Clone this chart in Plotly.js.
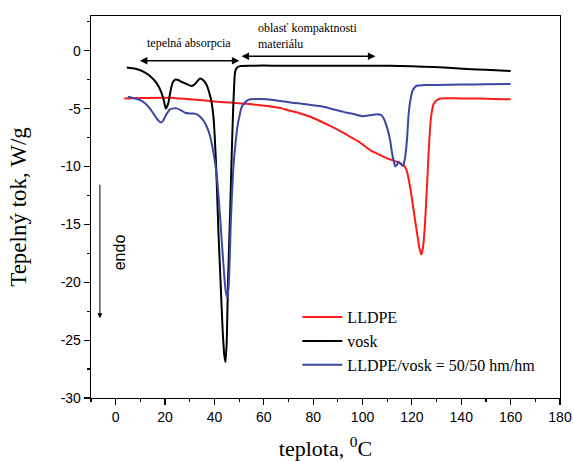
<!DOCTYPE html>
<html>
<head>
<meta charset="utf-8">
<script src="https://cdn.plot.ly/plotly-3.0.1.min.js"></script>
<style>html,body{margin:0;padding:0;background:#fff;}#chart{width:573px;height:461px;}</style>
</head>
<body>
<div id="chart"></div>
<script>
// ---- data ----
const seriesNames = ["LLDPE", "vosk", "LLDPE/vosk = 50/50 hm/hm"];

const lldpeX = [3.5, 10, 20.7, 28, 34.2, 40, 47.7, 55, 61.3, 66.7, 70.7, 74.8, 78.8, 82.5, 86.9, 91, 95, 99.1, 103.2, 106.5, 109.9, 112.2, 114, 116.7, 117.8, 118.7, 119.6, 120.5, 121.4, 122.2, 123, 123.8, 124.5, 125.2, 125.8, 126.4, 126.9, 127.5, 128.2, 128.8, 130, 131.6, 140, 147.8, 160];
const lldpeY = [-4.12, -4.08, -4.06, -4.15, -4.26, -4.38, -4.5, -4.62, -4.78, -4.95, -5.19, -5.42, -5.7, -6.05, -6.5, -6.95, -7.44, -7.95, -8.6, -8.95, -9.3, -9.45, -9.6, -9.9, -10.3, -11.1, -12.2, -13.5, -14.8, -15.9, -17.0, -17.6, -17.0, -15.3, -13.0, -10.5, -8.3, -6.3, -5.1, -4.6, -4.3, -4.12, -4.12, -4.12, -4.2];

const voskX = [4.5, 8, 11.2, 14, 16.6, 18.5, 19.5, 20.3, 21.3, 22.2, 23, 24.1, 25.5, 26.8, 28.5, 30.8, 32, 33.2, 34.2, 35.5, 36.7, 37.6, 38.8, 39.6, 40.7, 41.6, 42.5, 43.3, 44, 44.5, 45, 45.5, 46, 46.5, 47, 47.6, 48, 48.4, 49.2, 50.4, 55, 60, 66.7, 80, 95, 107, 115, 124.8, 133, 142.4, 150, 160];
const voskY = [-1.44, -1.55, -1.8, -2.2, -2.8, -3.6, -4.3, -5.0, -4.55, -3.5, -2.8, -2.5, -2.55, -2.7, -2.85, -3.05, -2.9, -2.6, -2.4, -2.55, -2.9, -3.4, -4.4, -5.7, -10.0, -15.5, -20.0, -24.0, -26.3, -26.9, -25.0, -20.0, -16.5, -13.0, -9.0, -5.0, -3.0, -1.8, -1.45, -1.33, -1.3, -1.28, -1.3, -1.3, -1.3, -1.3, -1.32, -1.38, -1.45, -1.58, -1.65, -1.76];

const blendX = [4.9, 7.5, 9.9, 12, 13.9, 15.5, 16.6, 17.6, 18.4, 19.2, 20, 21, 22, 23.5, 24.7, 26.5, 28.1, 30, 31.5, 33, 34.2, 35.6, 36.9, 38, 38.9, 40, 41, 42, 43, 44, 44.6, 45.2, 45.7, 46.2, 46.6, 47.2, 47.7, 48.4, 49.3, 50.2, 51.1, 53.1, 54.5, 58, 61.3, 66.7, 70.7, 74.8, 80.2, 84.2, 88, 92.3, 96, 99.8, 102.5, 105.9, 107.5, 108.6, 109.6, 110.6, 111.3, 112, 112.7, 113.3, 114, 114.6, 115.4, 116.4, 117.2, 118, 118.7, 119.4, 120.2, 121.4, 122.5, 124.8, 130, 140, 150, 160];
const blendY = [-3.98, -4.1, -4.26, -4.55, -5.0, -5.5, -5.85, -6.1, -6.2, -6.05, -5.7, -5.35, -5.07, -4.98, -4.98, -5.15, -5.36, -5.42, -5.42, -5.5, -5.7, -6.05, -6.57, -7.2, -8.0, -9.3, -10.9, -13.5, -16.5, -19.5, -20.8, -21.3, -20.5, -18.0, -15.0, -12.0, -10.0, -8.3, -6.57, -5.6, -4.84, -4.33, -4.2, -4.18, -4.2, -4.35, -4.47, -4.55, -4.72, -4.84, -5.05, -5.28, -5.45, -5.65, -5.6, -5.48, -5.55, -5.85, -6.4, -7.15, -7.9, -8.9, -9.6, -10.0, -9.85, -9.6, -9.75, -9.97, -9.3, -7.7, -5.4, -4.26, -3.5, -3.1, -3.0, -2.97, -2.95, -2.92, -2.9, -2.88];

const xTickVals = [0, 20, 40, 60, 80, 100, 120, 140, 160, 180];
const xTickText = ["0", "20", "40", "60", "80", "100", "120", "140", "160", "180"];
const xMinorVals = [-10, 10, 30, 50, 70, 90, 110, 130, 150, 170];
const yTickVals = [-30, -25, -20, -15, -10, -5, 0];
const yTickText = ["-30", "-25", "-20", "-15", "-10", "-5", "0"];
const yMinorVals = [-27.5, -22.5, -17.5, -12.5, -7.5, -2.5, 2.5];

const colors = ["#ff1a1a", "#000000", "#3d47a3"];

const traces = [
  {x: lldpeX, y: lldpeY, name: seriesNames[0]},
  {x: voskX, y: voskY, name: seriesNames[1]},
  {x: blendX, y: blendY, name: seriesNames[2]}
].map((t, i) => Object.assign(t, {
  type: "scatter", mode: "lines",
  line: {color: colors[i], width: 2, shape: "spline", smoothing: 0.6}
}));

const serif = "Liberation Serif, Times New Roman, serif";
const sans = "Liberation Sans, Arial, sans-serif";

const axisCommon = {
  showline: true, linecolor: "#000", linewidth: 1.3, mirror: true,
  showgrid: false, zeroline: false,
  ticks: "outside", ticklen: 6, tickwidth: 1.2, tickcolor: "#000",
  tickfont: {family: sans, size: 14, color: "#000"},
  tickmode: "array"
};

const layout = {
  width: 573, height: 461,
  margin: {l: 91, r: 13, t: 16, b: 63},
  paper_bgcolor: "#fff", plot_bgcolor: "#fff",
  showlegend: true,
  legend: {
    x: 0.44, y: 0.256, xanchor: "left", yanchor: "top",
    bgcolor: "rgba(0,0,0,0)", borderwidth: 0,
    font: {family: serif, size: 16, color: "#000"},
    itemwidth: 40,
    tracegroupgap: 0
  },
  xaxis: Object.assign({}, axisCommon, {
    range: [-10, 180], tickvals: xTickVals, ticktext: xTickText,
    minor: {tickmode: "array", tickvals: xMinorVals, ticks: "outside", ticklen: 3, tickwidth: 1.2, tickcolor: "#000", showgrid: false},
    title: {text: "teplota, <sup>0</sup>C", font: {family: serif, size: 22, color: "#000"}, standoff: 20}
  }),
  yaxis: Object.assign({}, axisCommon, {
    range: [-30, 3], tickvals: yTickVals, ticktext: yTickText,
    minor: {tickmode: "array", tickvals: yMinorVals, ticks: "outside", ticklen: 3, tickwidth: 1.2, tickcolor: "#000", showgrid: false},
    title: {text: "\u00a0\u00a0\u00a0\u00a0\u00a0Tepelný tok, W/g", font: {family: serif, size: 23, color: "#000"}, standoff: 27}
  }),
  annotations: [
    {x: 29.9, y: 0.69, xref: "x", yref: "y", text: "tepelná absorpcia", showarrow: false,
     font: {family: serif, size: 12, color: "#000"}},
    {x: 50.1, y: -0.87, ax: 9.2, ay: -0.87, xref: "x", yref: "y", axref: "x", ayref: "y",
     text: "", showarrow: true, arrowside: "end+start", arrowhead: 2, arrowsize: 1, arrowwidth: 1.5, arrowcolor: "#000"},
    {x: 57, y: 1.29, xref: "x", yref: "y", xanchor: "left", align: "left",
     text: "oblasť kompaktnosti<br>materiálu", showarrow: false,
     font: {family: serif, size: 12, color: "#000"}},
    {x: 105.2, y: -0.48, ax: 50.4, ay: -0.48, xref: "x", yref: "y", axref: "x", ayref: "y",
     text: "", showarrow: true, arrowside: "end+start", arrowhead: 2, arrowsize: 1, arrowwidth: 1.5, arrowcolor: "#000"},
    {x: -6.4, y: -23.1, ax: -6.4, ay: -11.45, xref: "x", yref: "y", axref: "x", ayref: "y",
     text: "", showarrow: true, arrowhead: 2, arrowsize: 1, arrowwidth: 1, arrowcolor: "#000"},
    {x: 1.4, y: -17.4, xref: "x", yref: "y", text: "endo", textangle: -90, showarrow: false,
     font: {family: sans, size: 16, color: "#000"}}
  ]
};

Plotly.newPlot("chart", traces, layout, {staticPlot: true, displayModeBar: false});
</script>
</body>
</html>
